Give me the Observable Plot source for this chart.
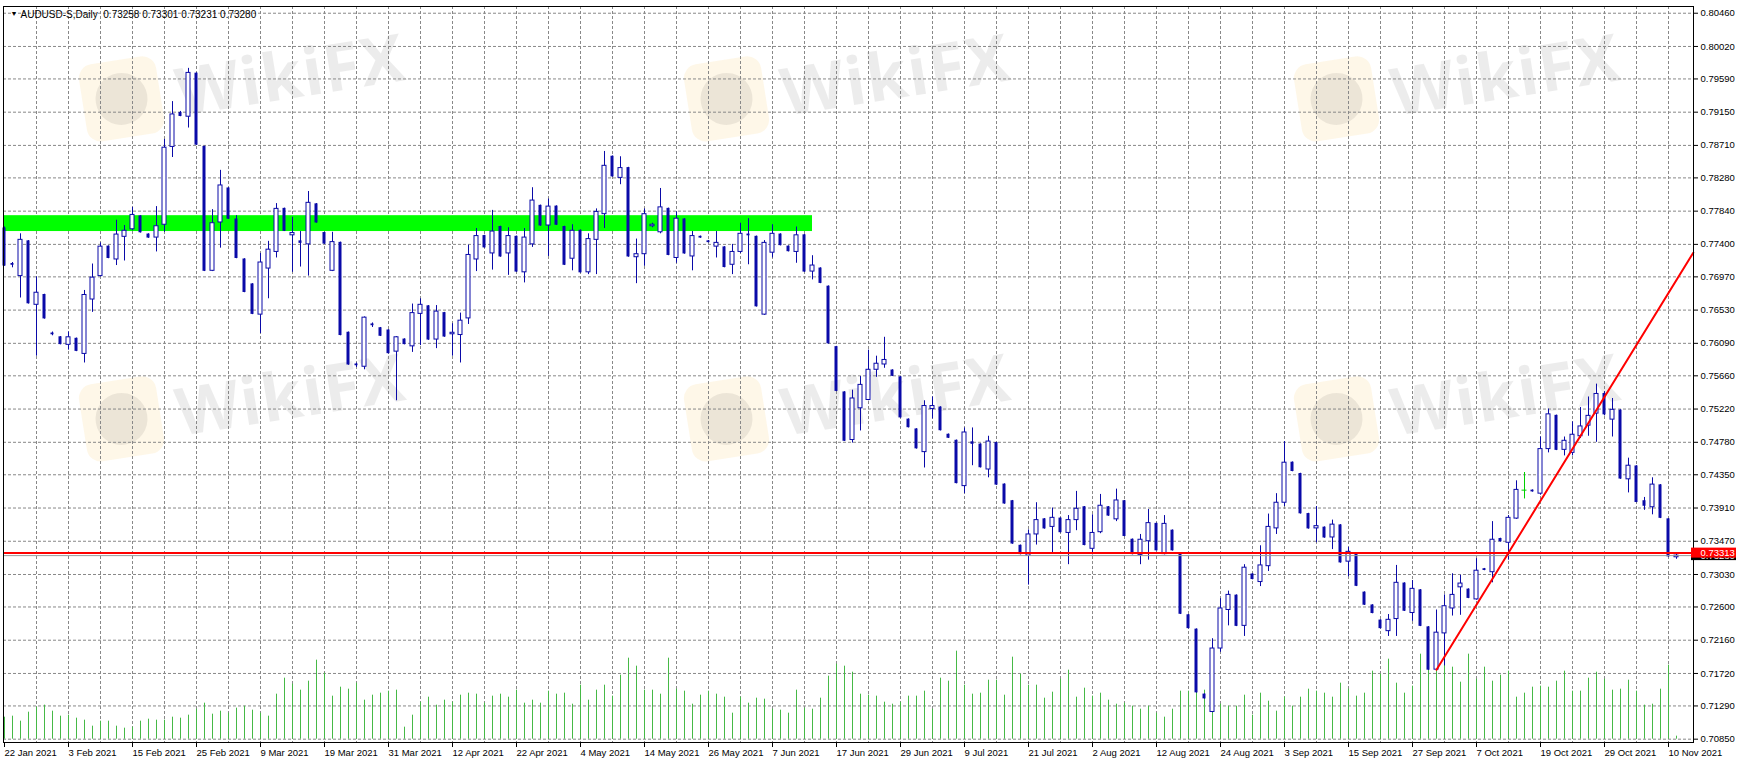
<!DOCTYPE html>
<html><head><meta charset="utf-8">
<script src="https://cdn.jsdelivr.net/npm/d3@7"></script>
<script src="https://cdn.jsdelivr.net/npm/@observablehq/plot@0.6"></script>
<style>
html,body{margin:0;padding:0;background:#fff;}
#chart{position:relative;width:1741px;height:764px;overflow:hidden;background:#fff}
#chart svg{position:absolute;left:0;top:0}
.wm{position:absolute;pointer-events:none;transform:rotate(-9deg);transform-origin:left center;display:flex;align-items:center}
.wm .logo{width:78px;height:78px;border-radius:14px;background:rgba(250,205,110,0.16);display:flex;align-items:center;justify-content:center;margin-right:16px}
.wm .logo span{width:52px;height:52px;border-radius:50%;background:rgba(0,0,0,0.07)}
.wm .txt{font:bold 66px 'Open Sans','DejaVu Sans',sans-serif;color:rgba(0,0,0,0.075);letter-spacing:1px}
</style></head><body><div id="chart"></div>
<script>
const symbol = "AUDUSD-S";
const timeframe = "Daily";
const open = [0.7761,0.7714,0.7698,0.7744,0.7660,0.7673,0.7622,0.7617,0.7607,0.7615,0.7595,0.7667,0.7698,0.7737,0.7720,0.7750,0.7760,0.7777,0.7753,0.7749,
0.7766,0.7869,0.7914,0.7909,0.7966,0.7869,0.7705,0.7769,0.7814,0.7773,0.7720,0.7687,0.7647,0.7708,0.7730,0.7787,0.7752,0.7744,0.7740,0.7793,
0.7755,0.7705,0.7742,0.7623,0.7581,0.7578,0.7634,0.7629,0.7626,0.7598,0.7614,0.7605,0.7648,0.7658,0.7614,0.7649,0.7621,0.7620,0.7642,0.7720,
0.7751,0.7728,0.7763,0.7728,0.7750,0.7703,0.7740,0.7791,0.7765,0.7790,0.7763,0.7721,0.7758,0.7703,0.7746,0.7780,0.7856,0.7828,0.7841,0.7723,
0.7727,0.7764,0.7756,0.7787,0.7722,0.7773,0.7724,0.7750,0.7744,0.7737,0.7736,0.7713,0.7730,0.7753,0.7750,0.7647,0.7729,0.7753,0.7737,0.7730,
0.7752,0.7704,0.7708,0.7684,0.7604,0.7544,0.7481,0.7523,0.7534,0.7574,0.7581,0.7573,0.7564,0.7508,0.7495,0.7465,0.7522,0.7524,0.7488,0.7480,
0.7420,0.7478,0.7475,0.7442,0.7477,0.7422,0.7400,0.7341,0.7328,0.7356,0.7376,0.7366,0.7377,0.7358,0.7375,0.7392,0.7337,0.7359,0.7392,0.7376,
0.7400,0.7349,0.7329,0.7347,0.7370,0.7330,0.7361,0.7330,0.7249,0.7230,0.7144,0.7121,0.7205,0.7256,0.7275,0.7235,0.7303,0.7293,0.7314,0.7364,
0.7398,0.7451,0.7436,0.7383,0.7364,0.7365,0.7352,0.7368,0.7320,0.7331,0.7279,0.7262,0.7242,0.7228,0.7244,0.7291,0.7252,0.7282,0.7233,0.7177,
0.7225,0.7258,0.7286,0.7283,0.7270,0.7310,0.7306,0.7350,0.7345,0.7377,0.7414,0.7414,0.7410,0.7469,0.7513,0.7468,0.7464,0.7486,0.7500,0.7516,
0.7542,0.7508,0.7520,0.7429,0.7446,0.7400,0.7392,0.7421,0.7376,0.73258];
const high = [0.7763,0.7716,0.7754,0.7745,0.7697,0.7674,0.7624,0.7618,0.7624,0.7616,0.7679,0.7714,0.7742,0.7738,0.7772,0.7765,0.7789,0.7778,0.7754,0.7790,
0.7879,0.7929,0.7916,0.7973,0.7967,0.7870,0.7786,0.7838,0.7815,0.7778,0.7721,0.7688,0.7728,0.7744,0.7794,0.7788,0.7776,0.7757,0.7810,0.7794,
0.7756,0.7756,0.7743,0.7624,0.7583,0.7644,0.7636,0.7630,0.7627,0.7618,0.7615,0.7661,0.7668,0.7659,0.7659,0.7650,0.7635,0.7649,0.7739,0.7761,
0.7752,0.7785,0.7764,0.7762,0.7751,0.7761,0.7815,0.7792,0.7800,0.7791,0.7764,0.7766,0.7759,0.7754,0.7787,0.7863,0.7857,0.7856,0.7842,0.7747,
0.7787,0.7768,0.7814,0.7788,0.7783,0.7774,0.7757,0.7751,0.7745,0.7757,0.7737,0.7740,0.7768,0.7774,0.7751,0.7745,0.7766,0.7754,0.7738,0.7763,
0.7753,0.7725,0.7709,0.7685,0.7605,0.7545,0.7547,0.7565,0.7600,0.7592,0.7617,0.7574,0.7565,0.7509,0.7496,0.7533,0.7538,0.7525,0.7489,0.7481,
0.7497,0.7497,0.7476,0.7486,0.7478,0.7423,0.7401,0.7342,0.7362,0.7398,0.7377,0.7391,0.7378,0.7381,0.7413,0.7393,0.7382,0.7409,0.7393,0.7416,
0.7401,0.7350,0.7356,0.7389,0.7371,0.7381,0.7362,0.7331,0.7250,0.7231,0.7145,0.7218,0.7271,0.7281,0.7276,0.7316,0.7304,0.7341,0.7383,0.7410,
0.7479,0.7452,0.7437,0.7384,0.7393,0.7366,0.7375,0.7369,0.7339,0.7332,0.7280,0.7263,0.7243,0.7250,0.7315,0.7292,0.7295,0.7283,0.7234,0.7256,
0.7276,0.7304,0.7302,0.7284,0.7324,0.7311,0.7373,0.7351,0.7381,0.7427,0.7438,0.7415,0.7485,0.7522,0.7514,0.7485,0.7505,0.7524,0.7538,0.7555,
0.7545,0.7536,0.7521,0.7457,0.7447,0.7405,0.7431,0.7422,0.7377,0.73301];
const low = [0.7711,0.7709,0.7669,0.7661,0.7592,0.7641,0.7619,0.7607,0.7600,0.7598,0.7583,0.7650,0.7697,0.7721,0.7712,0.7718,0.7758,0.7755,0.7748,0.7730,
0.7756,0.7855,0.7909,0.7894,0.7871,0.7704,0.7704,0.7735,0.7773,0.7721,0.7676,0.7647,0.7622,0.7668,0.7722,0.7757,0.7703,0.7710,0.7698,0.7768,
0.7740,0.7704,0.7619,0.7580,0.7577,0.7574,0.7630,0.7618,0.7595,0.7533,0.7607,0.7597,0.7606,0.7613,0.7602,0.7617,0.7592,0.7583,0.7634,0.7704,
0.7735,0.7706,0.7723,0.7699,0.7703,0.7689,0.7736,0.7764,0.7724,0.7765,0.7712,0.7705,0.7702,0.7700,0.7700,0.7761,0.7829,0.7819,0.7723,0.7688,
0.7711,0.7762,0.7754,0.7725,0.7715,0.7727,0.7705,0.7748,0.7742,0.7722,0.7709,0.7700,0.7728,0.7713,0.7657,0.7646,0.7722,0.7738,0.7730,0.7715,
0.7703,0.7693,0.7688,0.7608,0.7545,0.7479,0.7477,0.7493,0.7533,0.7564,0.7576,0.7565,0.7510,0.7497,0.7469,0.7444,0.7509,0.7493,0.7483,0.7423,
0.7410,0.7447,0.7444,0.7431,0.7421,0.7396,0.7343,0.7329,0.7289,0.7342,0.7363,0.7330,0.7358,0.7316,0.7361,0.7341,0.7329,0.7357,0.7380,0.7373,
0.7353,0.7329,0.7316,0.7322,0.7334,0.7329,0.7334,0.7250,0.7231,0.7146,0.7138,0.7120,0.7200,0.7235,0.7234,0.7221,0.7296,0.7287,0.7307,0.7356,
0.7393,0.7439,0.7383,0.7363,0.7345,0.7351,0.7336,0.7318,0.7300,0.7287,0.7262,0.7251,0.7231,0.7221,0.7221,0.7254,0.7241,0.7234,0.7176,0.7176,
0.7182,0.7248,0.7249,0.7271,0.7269,0.7308,0.7292,0.7346,0.7322,0.7376,0.7403,0.7412,0.7408,0.7464,0.7467,0.7460,0.7460,0.7483,0.7486,0.7478,
0.7513,0.7485,0.7429,0.7411,0.7398,0.7388,0.7382,0.7377,0.7326,0.73231];
const close = [0.7712,0.7713,0.7746,0.7662,0.7676,0.7642,0.7621,0.7608,0.7617,0.7599,0.7673,0.7696,0.7737,0.7722,0.7753,0.7758,0.7779,0.7756,0.7749,0.7764,
0.7868,0.7912,0.7910,0.7967,0.7872,0.7705,0.7768,0.7818,0.7774,0.7722,0.7677,0.7648,0.7716,0.7733,0.7787,0.7758,0.7755,0.7742,0.7795,0.7769,
0.7741,0.7743,0.7620,0.7581,0.7580,0.7643,0.7633,0.7619,0.7596,0.7617,0.7608,0.7649,0.7660,0.7614,0.7651,0.7618,0.7623,0.7639,0.7726,0.7751,
0.7736,0.7757,0.7724,0.7751,0.7704,0.7749,0.7798,0.7765,0.7790,0.7766,0.7713,0.7758,0.7703,0.7747,0.7783,0.7844,0.7830,0.7841,0.7724,0.7727,
0.7780,0.7766,0.7789,0.7726,0.7774,0.7728,0.7751,0.7749,0.7743,0.7742,0.7710,0.7730,0.7754,0.7752,0.7658,0.7742,0.7754,0.7739,0.7731,0.7752,
0.7704,0.7712,0.7689,0.7609,0.7546,0.7480,0.7536,0.7554,0.7574,0.7582,0.7587,0.7566,0.7511,0.7498,0.7470,0.7526,0.7526,0.7494,0.7484,0.7424,
0.7491,0.7476,0.7445,0.7479,0.7422,0.7397,0.7344,0.7330,0.7356,0.7375,0.7364,0.7378,0.7359,0.7375,0.7390,0.7342,0.7358,0.7394,0.7381,0.7401,
0.7354,0.7330,0.7349,0.7371,0.7335,0.7370,0.7335,0.7251,0.7232,0.7147,0.7139,0.7205,0.7258,0.7276,0.7235,0.7312,0.7297,0.7315,0.7366,0.7398,
0.7451,0.7440,0.7384,0.7364,0.7367,0.7352,0.7369,0.7319,0.7333,0.7288,0.7263,0.7252,0.7232,0.7243,0.7292,0.7255,0.7284,0.7235,0.7177,0.7226,
0.7261,0.7276,0.7291,0.7272,0.7308,0.7309,0.7349,0.7347,0.7378,0.7415,0.7414,0.7413,0.7469,0.7515,0.7468,0.7480,0.7488,0.7499,0.7513,0.7542,
0.7515,0.7521,0.7430,0.7447,0.7399,0.7394,0.7422,0.7378,0.7327,0.73280];
const volume = [22,23,18,27,32,34,28,23,24,21,19,13,18,18,13,11,12,18,20,19,19,22,21,24,30,36,25,28,26,31,33,29,26,23,45,61,55,49,58,79,66,43,52,50,56,39,44,46,48,49,12,24,
37,42,34,39,37,44,46,45,36,43,45,42,49,36,39,36,48,45,46,35,54,39,49,54,43,64,81,73,49,49,45,81,50,48,35,44,48,45,42,26,42,36,41,40,30,29,26,49,31,30,41,63,
75,73,67,45,44,43,37,35,37,43,43,48,30,61,58,88,54,45,46,59,59,44,82,65,54,54,41,47,60,69,42,51,43,46,39,35,36,33,30,33,26,22,30,48,48,65,49,35,35,33,33,44,
24,46,38,28,42,33,42,50,48,46,42,56,50,43,46,68,65,80,56,46,53,85,85,80,77,72,57,85,60,72,58,64,68,42,46,52,53,52,58,68,48,48,61,67,60,49,50,59,48,34,35,50,74,3];
const dateLabels = ["22 Jan 2021","3 Feb 2021","15 Feb 2021","25 Feb 2021","9 Mar 2021","19 Mar 2021","31 Mar 2021","12 Apr 2021","22 Apr 2021","4 May 2021","14 May 2021","26 May 2021","7 Jun 2021","17 Jun 2021","29 Jun 2021","9 Jul 2021","21 Jul 2021","2 Aug 2021","12 Aug 2021","24 Aug 2021","3 Sep 2021","15 Sep 2021","27 Sep 2021","7 Oct 2021","19 Oct 2021","29 Oct 2021","10 Nov 2021"];
const priceLabels = ["0.80460","0.80020","0.79590","0.79150","0.78710","0.78280","0.77840","0.77400","0.76970","0.76530","0.76090","0.75660","0.75220","0.74780","0.74350","0.73910","0.73470","0.73030","0.72600","0.72160","0.71720","0.71290","0.70850"];
const zoneBars = [-0.125, 101];
const zonePrices = [0.7757, 0.7778];
const levelPrice = 0.73313;
const trendBars = [179, 211.1];
const trendPrices = [0.7177, 0.7729];
const watermarkText = "WikiFX";

const blue = "#0a0aa8";
const dojiGreen = "#00d000";
const xDomain = [-0.125, 211.125];
const yDomain = [0.70806, 0.80549];
const W = 1741, H = 764, mL = 3, mR = 48, mT = 6, mB = 22;

const bars = open.map((o, i) => ({i, o, h: high[i], l: low[i], c: close[i], v: volume[i]}));
const bull = bars.filter(d => d.c > d.o);
const bear = bars.filter(d => d.c < d.o);
const doji = bars.filter(d => d.c === d.o);
const priceTicks = priceLabels.map(Number);
const dateTicks = dateLabels.map((_, k) => k * 8);
const gridBars = d3.range(4, 210, 4);
const last = bars[bars.length - 1];
const bid = last.c;
const volBase = priceTicks[priceTicks.length - 1];
const pricePerPx = (yDomain[1] - yDomain[0]) / (H - mT - mB);
const header = `${symbol},${timeframe}  ${last.o.toFixed(5)} ${last.h.toFixed(5)} ${last.l.toFixed(5)} ${last.c.toFixed(5)}`;
const trend = trendBars.map((b, k) => ({b, p: trendPrices[k]}));

// faint watermark layer behind the chart
const host = document.getElementById("chart");
[[83, 100], [688, 100], [1298, 100], [83, 420], [688, 420], [1298, 420]].forEach(([left, top]) => {
  const d = document.createElement("div");
  d.className = "wm";
  d.style.left = left + "px";
  d.style.top = (top - 40) + "px";
  d.innerHTML = `<div class="logo"><span></span></div><div class="txt">${watermarkText}</div>`;
  host.appendChild(d);
});

const chart = Plot.plot({
  width: W, height: H,
  marginLeft: mL, marginRight: mR, marginTop: mT, marginBottom: mB,
  style: {fontFamily: "'Liberation Sans', Arial, sans-serif", fontSize: "9.5px", background: "transparent", color: "#000", overflow: "visible"},
  x: {type: "linear", domain: xDomain},
  y: {type: "linear", domain: yDomain},
  marks: [
    Plot.gridY(priceTicks, {stroke: "#888", strokeOpacity: 1, strokeDasharray: "3,2"}),
    Plot.gridX(gridBars, {stroke: "#888", strokeOpacity: 1, strokeDasharray: "3,2"}),
    Plot.rect([0], {x1: zoneBars[0], x2: zoneBars[1], y1: zonePrices[0], y2: zonePrices[1], fill: "#00ff00"}),
    Plot.ruleX(bars, {x: "i", y1: volBase, y2: d => volBase + d.v * pricePerPx, stroke: "#46b946", strokeWidth: 1}),
    Plot.ruleX(bars, {x: "i", y1: "l", y2: "h", stroke: d => d.o === d.c ? dojiGreen : blue, strokeWidth: 1}),
    Plot.rect(bear, {x1: "i", x2: "i", y1: "o", y2: "c", fill: blue, insetLeft: -1.5, insetRight: -1.5, insetTop: -0.5, insetBottom: -0.5}),
    Plot.rect(bull, {x1: "i", x2: "i", y1: "o", y2: "c", fill: "#fff", stroke: blue, strokeWidth: 1, insetLeft: -2, insetRight: -2}),
    Plot.rect(doji, {x1: "i", x2: "i", y1: "o", y2: "c", fill: dojiGreen, insetLeft: -2.5, insetRight: -2.5, insetTop: -0.5, insetBottom: -0.5}),
    Plot.ruleY([bid], {stroke: "#9a9a9a", strokeWidth: 1}),
    Plot.ruleY([levelPrice], {stroke: "#ff0000", strokeWidth: 2}),
    Plot.line(trend, {x: "b", y: "p", stroke: "#ff0000", strokeWidth: 2}),
    Plot.frame({stroke: "#000"}),
    Plot.axisY(priceTicks, {anchor: "right", tickSize: 4, tickPadding: 3, tickFormat: d => d.toFixed(5), fill: "#000", stroke: "#000"}),
    Plot.axisX(dateTicks, {anchor: "bottom", tickSize: 5, tickPadding: 2, textAnchor: "start", dx: 0, fontSize: 9.5, tickFormat: (d, k) => dateLabels[k], fill: "#000", stroke: "#000"}),
    Plot.rect([bid], {x1: xDomain[1], x2: xDomain[1], y1: d => d, y2: d => d, fill: "#000", insetLeft: -2, insetRight: -43, insetTop: -5, insetBottom: -5}),
    Plot.text([bid], {x: xDomain[1], y: d => d, text: d => d.toFixed(5), fill: "#fff", textAnchor: "start", dx: 7}),
    Plot.rect([levelPrice], {x1: xDomain[1], x2: xDomain[1], y1: d => d, y2: d => d, fill: "#ff0000", insetLeft: -2, insetRight: -43, insetTop: -5, insetBottom: -5}),
    Plot.text([levelPrice], {x: xDomain[1], y: d => d, text: d => d.toFixed(5), fill: "#fff", textAnchor: "start", dx: 7}),
    Plot.text(["\u25BC"], {frameAnchor: "top-left", dx: 7, dy: 5, fontSize: 7, textAnchor: "start", lineAnchor: "top", fill: "#000"}),
    Plot.text([header], {frameAnchor: "top-left", dx: 17, dy: 4.5, fontSize: 10, textAnchor: "start", lineAnchor: "top", fill: "#000"})
  ]
});
host.appendChild(chart);
</script></body></html>
